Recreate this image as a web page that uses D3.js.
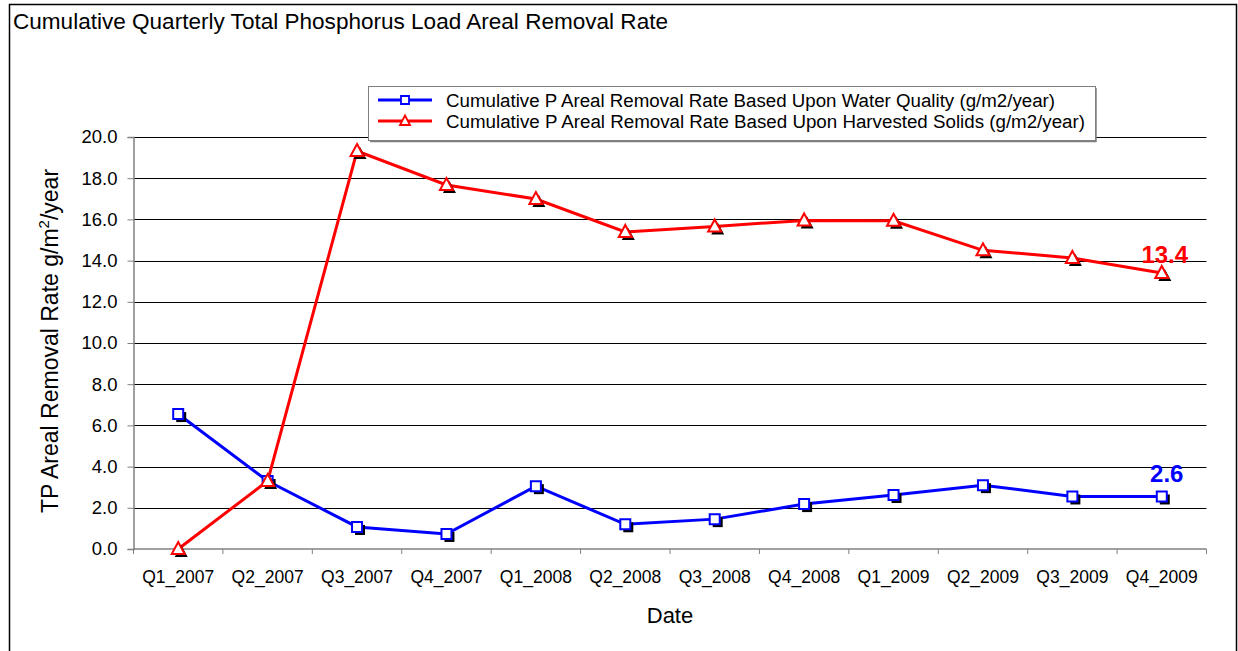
<!DOCTYPE html>
<html><head><meta charset="utf-8">
<script src="https://cdn.jsdelivr.net/npm/d3@7"></script>
<style>body{margin:0;background:#fff;} svg{display:block;font-family:"Liberation Sans",Arial,sans-serif;}</style>
</head><body>
<svg id="c" width="1238" height="651"></svg>
<script>
const categories = ["Q1_2007","Q2_2007","Q3_2007","Q4_2007","Q1_2008","Q2_2008","Q3_2008","Q4_2008","Q1_2009","Q2_2009","Q3_2009","Q4_2009"];
const waterQuality = [6.55, 3.3, 1.07, 0.73, 3.05, 1.2, 1.45, 2.18, 2.62, 3.1, 2.55, 2.55];
const harvestedSolids = [0.0, 3.3, 19.32, 17.67, 16.99, 15.39, 15.66, 15.95, 15.93, 14.5, 14.13, 13.4];
const yTicks = [0, 2, 4, 6, 8, 10, 12, 14, 16, 18, 20];
const seriesNames = ["Cumulative P Areal Removal Rate Based Upon Water Quality (g/m2/year)",
                     "Cumulative P Areal Removal Rate Based Upon Harvested Solids (g/m2/year)"];
const endLabels = ["2.6", "13.4"];

const svg = d3.select("#c");
const L = 133.5, R = 1206.5, T = 137, B = 549;
const x = d3.scaleBand().domain(categories).range([L, R]);
const y = d3.scaleLinear().domain([0, 20]).range([B, T]);
const cx = d => x(d) + x.bandwidth()/2;

// outer frame
svg.append("path").attr("d","M9.5,651 V4.5 H1236.5 V651").attr("fill","none").attr("stroke","#000").attr("stroke-width",1.5);

// title
svg.append("text").attr("x",13).attr("y",29).attr("font-size",22.5).attr("fill","#000")
  .attr("textLength",655).attr("lengthAdjust","spacingAndGlyphs")
  .text("Cumulative Quarterly Total Phosphorus Load Areal Removal Rate");

// gridlines
svg.append("g").selectAll("line").data(yTicks.filter(v=>v>0)).join("line")
  .attr("x1",L).attr("x2",R).attr("y1",d=>Math.round(y(d))+0.5).attr("y2",d=>Math.round(y(d))+0.5)
  .attr("stroke","#000").attr("stroke-width",1);

// y axis
const yAxis = d3.axisLeft(y).tickValues(yTicks).tickFormat(d3.format(".1f")).tickSize(6).tickPadding(10);
const gy = svg.append("g").attr("transform",`translate(${L},0)`).call(yAxis);
gy.select(".domain").attr("stroke","#808080").attr("stroke-width",1.5);
gy.selectAll(".tick line").attr("stroke","#808080");
gy.selectAll(".tick text").attr("font-size",18.5).attr("font-family","Liberation Sans, Arial").attr("fill","#000");

// x axis
const gx = svg.append("g").attr("transform",`translate(0,${B})`);
gx.append("line").attr("x1",L).attr("x2",R).attr("y1",0).attr("y2",0).attr("stroke","#808080").attr("stroke-width",1.5);
const bounds = categories.map(c=>x(c)).concat([x(categories[categories.length-1])+x.bandwidth()]);
gx.selectAll(".xt").data(bounds).join("line").attr("class","xt")
  .attr("x1",d=>d).attr("x2",d=>d).attr("y1",0).attr("y2",5).attr("stroke","#808080");
gx.selectAll(".xl").data(categories).join("text").attr("class","xl")
  .attr("x",cx).attr("y",34).attr("text-anchor","middle").attr("font-size",17.5).attr("fill","#000").text(d=>d);

// axis titles
svg.append("text").attr("x",670).attr("y",623).attr("text-anchor","middle").attr("font-size",22).text("Date");
const yt = svg.append("text").attr("transform",`translate(58,${341}) rotate(-90)`).attr("text-anchor","middle").attr("font-size",23);
yt.append("tspan").text("TP Areal Removal Rate g/m");
yt.append("tspan").attr("dy",-9).attr("font-size",15).text("2");
yt.append("tspan").attr("dy",9).text("/year");

const line = d3.line().x((d,i)=>cx(categories[i])).y(d=>y(d));
const series = [
  {vals: waterQuality, color:"#0000ff", shape:"square"},
  {vals: harvestedSolids, color:"#ff0000", shape:"triangle"}
];
series.forEach(s=>{
  svg.append("path").datum(s.vals).attr("d",line).attr("fill","none").attr("stroke",s.color).attr("stroke-width",3);
});
const sqPath = "M-5,-5H5V5H-5Z";
const triPath = "M0,-7L6.5,5H-6.5Z";
series.forEach(s=>{
  const g = svg.append("g");
  const p = s.shape==="square"?sqPath:triPath;
  g.selectAll(".sh").data(s.vals).join("path").attr("class","sh")
    .attr("transform",(d,i)=>`translate(${cx(categories[i])+3},${y(d)+3})`).attr("d",p).attr("fill","#000");
  g.selectAll(".mk").data(s.vals).join("path").attr("class","mk")
    .attr("transform",(d,i)=>`translate(${cx(categories[i])},${y(d)})`).attr("d",p)
    .attr("fill","#fff").attr("stroke",s.color).attr("stroke-width",2);
});

// end labels
const last = categories.length-1;
svg.append("text").attr("x",cx(categories[last])+5).attr("y",y(waterQuality[last])-14)
  .attr("text-anchor","middle").attr("font-size",24).attr("font-weight","bold").attr("fill","#0000ff").text(endLabels[0]);
svg.append("text").attr("x",cx(categories[last])+3).attr("y",y(harvestedSolids[last])-10)
  .attr("text-anchor","middle").attr("font-size",24).attr("font-weight","bold").attr("fill","#ff0000").text(endLabels[1]);

// legend
const lg = svg.append("g");
lg.append("rect").attr("x",368.5).attr("y",86.5).attr("width",727).attr("height",54).attr("fill","#fff").attr("stroke","#808080").attr("stroke-width",1);
lg.append("path").attr("d","M1096,88 V141.5 H370").attr("fill","none").attr("stroke","#808080").attr("stroke-width",1.5);
series.forEach((s,i)=>{
  const ly = 100 + i*21;
  lg.append("line").attr("x1",378).attr("x2",432).attr("y1",ly).attr("y2",ly).attr("stroke",s.color).attr("stroke-width",3);
  lg.append("path").attr("transform",`translate(405,${ly})`).attr("d", s.shape==="square"?"M-4,-4H4V4H-4Z":"M0,-5.5L5,4H-5Z")
    .attr("fill","#fff").attr("stroke",s.color).attr("stroke-width",1.8);
  lg.append("text").attr("x",446).attr("y",ly+6.5).attr("font-size",18).attr("fill","#000")
    .attr("textLength", i===0?609:639).attr("lengthAdjust","spacingAndGlyphs").text(seriesNames[i]);
});
</script>
</body></html>
